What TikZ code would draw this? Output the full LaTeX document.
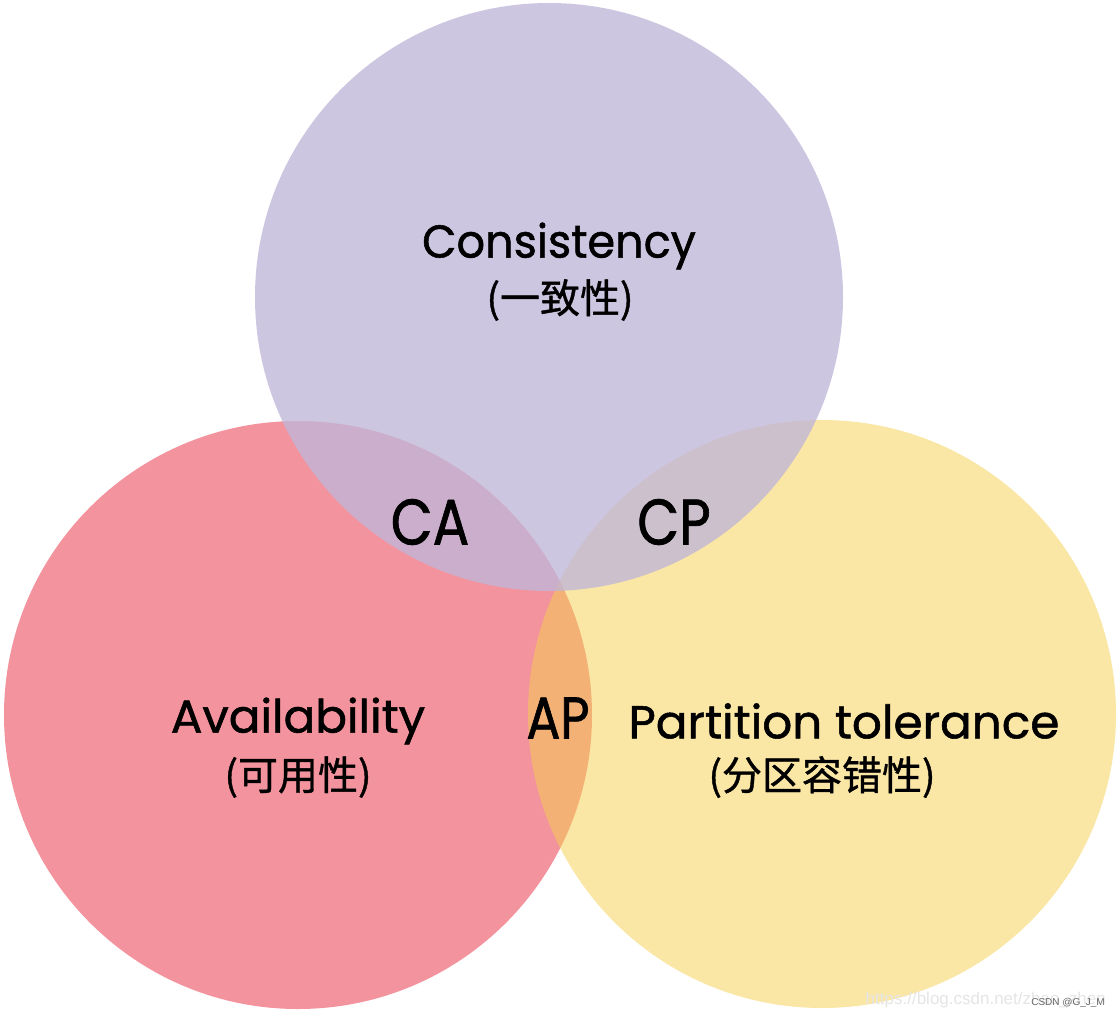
\documentclass[tikz,border=0pt]{standalone}
\usepackage{fontspec}
\setmainfont{Poppins}
\newfontfamily\labfont{Poppins}[FakeBold=1.2]
\newfontfamily\cjk{Noto Sans CJK SC}[FakeBold=1.0]
\newfontfamily\wmfont{Liberation Sans}
\definecolor{cred}{RGB}{232,40,60}
\definecolor{cyel}{RGB}{246,208,78}
\definecolor{cpur}{RGB}{192,182,216}
\tikzset{
  biglabel/.style={font=\labfont\fontsize{46}{54}\selectfont, text=black, inner sep=0pt},
  cjklabel/.style={font=\cjk\fontsize{40}{46}\selectfont, text=black, inner sep=0pt},
  pairlabel/.style={font=\labfont\fontsize{56}{64}\selectfont, text=black, inner sep=0pt},
}
\begin{document}
\begin{tikzpicture}[x=1pt,y=-1pt]
\useasboundingbox (0,0) rectangle (1120,1018);
\fill[white] (0,0) rectangle (1120,1018);
% circles
\fill[cred, fill opacity=0.5] (298,715) circle[radius=294];
\fill[cyel, fill opacity=0.5] (822,714) circle[radius=294];
\fill[cpur, fill opacity=0.78] (549,297) circle[radius=294];
% labels
\node[biglabel] (c) at (559,246) {\scalebox{0.97}[1]{Consistency}};
\node[cjklabel] (cz) at (560,300) {(一致性)};
\node[biglabel] (a) at (298,721) {\scalebox{1.02}[1]{Availability}};
\node[biglabel] (p) at (844,721) {\scalebox{1.02}[1]{Partition tolerance}};
\node[cjklabel] (az) at (298,777) {(可用性)};
\node[cjklabel] (pz) at (822,777) {(分区容错性)};
\node[pairlabel] (ca) at (430,522) {\scalebox{0.97}[1.15]{CA}};
\node[pairlabel] (cp) at (674,522) {\scalebox{0.97}[1.15]{CP}};
\node[pairlabel] (ap) at (558,718) {\scalebox{0.9}[1.05]{AP}};
% watermark
\node[font=\wmfont\fontsize{17}{20}\selectfont, text=black!10, inner sep=0pt, anchor=east] (wm) at (1106,1000) {https://blog.csdn.net/zhao\_zhen};
\node[font=\wmfont\fontsize{10}{12}\selectfont, text=black!60, inner sep=0pt, anchor=east] (wm2) at (1105,1003) {CSDN @G\_J\_M};
\end{tikzpicture}
\end{document}
